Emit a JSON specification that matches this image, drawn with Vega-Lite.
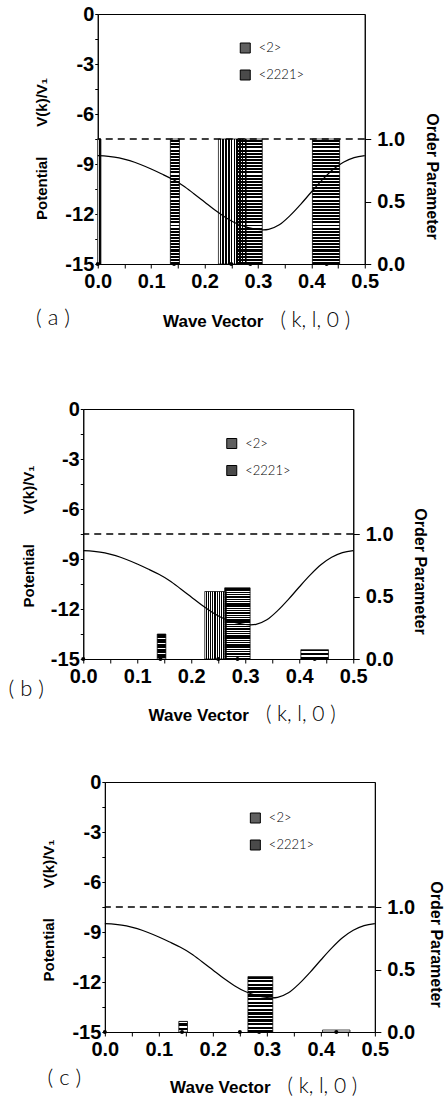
{
"$schema": "https://vega.github.io/schema/vega-lite/v6.json",
"padding": {"left": 0, "top": 3, "right": 0, "bottom": 0},
"background": "white",
"spacing": 0,
"center": true,
"datasets": {
"curve": [{"k":0,"v":-8.5},{"k":0.02,"v":-8.54},{"k":0.04,"v":-8.63},{"k":0.06,"v":-8.8},{"k":0.08,"v":-9.03},{"k":0.1,"v":-9.3},{"k":0.12,"v":-9.6},{"k":0.14,"v":-9.92},{"k":0.16,"v":-10.3},{"k":0.18,"v":-10.78},{"k":0.2,"v":-11.28},{"k":0.22,"v":-11.78},{"k":0.24,"v":-12.22},{"k":0.26,"v":-12.57},{"k":0.28,"v":-12.8},{"k":0.3,"v":-12.93},{"k":0.31,"v":-12.95},{"k":0.32,"v":-12.92},{"k":0.34,"v":-12.65},{"k":0.36,"v":-12.1},{"k":0.38,"v":-11.42},{"k":0.4,"v":-10.68},{"k":0.42,"v":-9.97},{"k":0.44,"v":-9.35},{"k":0.46,"v":-8.9},{"k":0.48,"v":-8.62},{"k":0.5,"v":-8.5}],
"bars": [
{"panel":"a","type":"<2>","x1":0.0,"x2":0.006,"op":1.0},
{"panel":"a","type":"<2221>","x1":0.136,"x2":0.153,"op":1.0},
{"panel":"a","type":"<2>","x1":0.226,"x2":0.278,"op":1.0},
{"panel":"a","type":"<2221>","x1":0.262,"x2":0.308,"op":1.0},
{"panel":"a","type":"<2221>","x1":0.402,"x2":0.453,"op":1.0},
{"panel":"b","type":"<2221>","x1":0.137,"x2":0.153,"op":0.2},
{"panel":"b","type":"<2>","x1":0.225,"x2":0.265,"op":0.54},
{"panel":"b","type":"<2221>","x1":0.262,"x2":0.309,"op":0.57},
{"panel":"b","type":"<2221>","x1":0.403,"x2":0.454,"op":0.075},
{"panel":"c","type":"<2221>","x1":0.137,"x2":0.153,"op":0.085},
{"panel":"c","type":"<2221>","x1":0.265,"x2":0.311,"op":0.444},
{"panel":"c","type":"<2221>","x1":0.403,"x2":0.454,"op":0.016}
],
"pts": [{"k":0},{"k":0.1429},{"k":0.25},{"k":0.2857},{"k":0.4286}]
},
"resolve": {"scale": {"fill": "independent"}, "legend": {"fill": "independent"}},
"vconcat": [
{
"width": 267, "height": 250,
"title": {"text": "( a )", "orient": "bottom", "anchor": "start", "frame": "group", "dx": -61.7, "dy": -72, "offset": 0, "baseline": "alphabetic", "font": "Lato", "fontWeight": 300, "fontSize": 22, "color": "black"},
"layer": [
{"data": {"name": "bars"}, "transform": [{"filter": "datum.panel === 'a'"}],
"mark": {"type": "rect"},
"encoding": {
"x": {"field": "x1", "type": "quantitative", "scale": {"domain": [0, 0.5], "nice": false}, "axis": {"orient": "bottom", "labels": false, "ticks": false, "domain": false, "title": "( k, l, 0 )", "titleFont": "Lato", "titleFontWeight": 300, "titleFontSize": 21, "titleX": 217, "titleY": 62, "titleBaseline": "alphabetic", "minExtent": 0}},
"x2": {"field": "x2"},
"y": {"field": "op", "type": "quantitative", "scale": {"domain": [0, 2], "nice": false}, "axis": {"orient": "right", "values": [0, 0.5, 1], "format": ".1f", "tickSize": 6, "labelPadding": 6, "title": "Order Parameter", "titleFontSize": 16, "titleAngle": 90, "titleX": 61.7, "titleY": 162, "titleBaseline": "alphabetic", "minExtent": 87, "maxExtent": 200}},
"y2": {"datum": 0},
"fill": {"field": "type", "type": "nominal", "scale": {"domain": ["<2>", "<2221>"], "range": ["#606060", "#4a4a4a"]},
"legend": {"orient": "none", "legendX": 141, "legendY": 27.5, "title": null, "symbolType": "square", "symbolSize": 100, "symbolStrokeColor": "black", "symbolStrokeWidth": 1, "symbolOpacity": 1, "labelFont": "Lato", "labelFontWeight": 300, "labelFontSize": 13, "labelColor": "black", "labelOffset": 7, "rowPadding": 12, "padding": 0}}
}},
{"data": {"name": "bars"}, "transform": [{"filter": "datum.panel === 'a'"}],
"mark": {"type": "rect", "fill": "white"},
"encoding": {"x": {"field": "x1", "type": "quantitative", "scale": {"domain": [0, 0.5], "nice": false}, "axis": null}, "x2": {"field": "x2"}, "y": {"field": "op", "type": "quantitative", "scale": {"domain": [0, 2], "nice": false}, "axis": null}, "y2": {"datum": 0}}},
{"data": {"name": "bars"}, "transform": [{"filter": "datum.panel === 'a' && datum.type === '<2>'"}],
"mark": {"type": "rect", "stroke": "black", "strokeWidth": 0.7, "fill": {"gradient":"linear","x1":0,"y1":0,"x2":1,"y2":0,"stops":[{"offset":0,"color":"#fff"},{"offset":0.045,"color":"#fff"},{"offset":0.045,"color":"#000"},{"offset":0.1,"color":"#000"},{"offset":0.1,"color":"#fff"},{"offset":0.145,"color":"#fff"},{"offset":0.145,"color":"#000"},{"offset":0.2,"color":"#000"},{"offset":0.2,"color":"#fff"},{"offset":0.245,"color":"#fff"},{"offset":0.245,"color":"#000"},{"offset":0.3,"color":"#000"},{"offset":0.3,"color":"#fff"},{"offset":0.345,"color":"#fff"},{"offset":0.345,"color":"#000"},{"offset":0.4,"color":"#000"},{"offset":0.4,"color":"#fff"},{"offset":0.445,"color":"#fff"},{"offset":0.445,"color":"#000"},{"offset":0.5,"color":"#000"},{"offset":0.5,"color":"#fff"},{"offset":0.545,"color":"#fff"},{"offset":0.545,"color":"#000"},{"offset":0.6,"color":"#000"},{"offset":0.6,"color":"#fff"},{"offset":0.645,"color":"#fff"},{"offset":0.645,"color":"#000"},{"offset":0.7,"color":"#000"},{"offset":0.7,"color":"#fff"},{"offset":0.745,"color":"#fff"},{"offset":0.745,"color":"#000"},{"offset":0.8,"color":"#000"},{"offset":0.8,"color":"#fff"},{"offset":0.845,"color":"#fff"},{"offset":0.845,"color":"#000"},{"offset":0.9,"color":"#000"},{"offset":0.9,"color":"#fff"},{"offset":0.945,"color":"#fff"},{"offset":0.945,"color":"#000"},{"offset":1,"color":"#000"}]}},
"encoding": {"x": {"field": "x1", "type": "quantitative", "scale": {"domain": [0, 0.5], "nice": false}, "axis": null}, "x2": {"field": "x2"}, "y": {"field": "op", "type": "quantitative", "scale": {"domain": [0, 2], "nice": false}, "axis": null}, "y2": {"datum": 0}}},
{"data": {"name": "bars"}, "transform": [{"filter": "datum.panel === 'a' && datum.type === '<2221>'"}],
"mark": {"type": "rect", "stroke": "black", "strokeWidth": 0.7, "fill": {"gradient":"linear","x1":0,"y1":0,"x2":0,"y2":1,"stops":[{"offset":0,"color":"rgba(255,255,255,0)"},{"offset":0.009,"color":"rgba(255,255,255,0)"},{"offset":0.009,"color":"#000"},{"offset":0.025,"color":"#000"},{"offset":0.025,"color":"rgba(255,255,255,0)"},{"offset":0.034,"color":"rgba(255,255,255,0)"},{"offset":0.034,"color":"#000"},{"offset":0.05,"color":"#000"},{"offset":0.05,"color":"rgba(255,255,255,0)"},{"offset":0.059,"color":"rgba(255,255,255,0)"},{"offset":0.059,"color":"#000"},{"offset":0.075,"color":"#000"},{"offset":0.075,"color":"rgba(255,255,255,0)"},{"offset":0.084,"color":"rgba(255,255,255,0)"},{"offset":0.084,"color":"#000"},{"offset":0.1,"color":"#000"},{"offset":0.1,"color":"rgba(255,255,255,0)"},{"offset":0.109,"color":"rgba(255,255,255,0)"},{"offset":0.109,"color":"#000"},{"offset":0.125,"color":"#000"},{"offset":0.125,"color":"rgba(255,255,255,0)"},{"offset":0.134,"color":"rgba(255,255,255,0)"},{"offset":0.134,"color":"#000"},{"offset":0.15,"color":"#000"},{"offset":0.15,"color":"rgba(255,255,255,0)"},{"offset":0.159,"color":"rgba(255,255,255,0)"},{"offset":0.159,"color":"#000"},{"offset":0.175,"color":"#000"},{"offset":0.175,"color":"rgba(255,255,255,0)"},{"offset":0.184,"color":"rgba(255,255,255,0)"},{"offset":0.184,"color":"#000"},{"offset":0.2,"color":"#000"},{"offset":0.2,"color":"rgba(255,255,255,0)"},{"offset":0.209,"color":"rgba(255,255,255,0)"},{"offset":0.209,"color":"#000"},{"offset":0.225,"color":"#000"},{"offset":0.225,"color":"rgba(255,255,255,0)"},{"offset":0.234,"color":"rgba(255,255,255,0)"},{"offset":0.234,"color":"#000"},{"offset":0.25,"color":"#000"},{"offset":0.25,"color":"rgba(255,255,255,0)"},{"offset":0.259,"color":"rgba(255,255,255,0)"},{"offset":0.259,"color":"#000"},{"offset":0.275,"color":"#000"},{"offset":0.275,"color":"rgba(255,255,255,0)"},{"offset":0.284,"color":"rgba(255,255,255,0)"},{"offset":0.284,"color":"#000"},{"offset":0.3,"color":"#000"},{"offset":0.3,"color":"rgba(255,255,255,0)"},{"offset":0.309,"color":"rgba(255,255,255,0)"},{"offset":0.309,"color":"#000"},{"offset":0.325,"color":"#000"},{"offset":0.325,"color":"rgba(255,255,255,0)"},{"offset":0.334,"color":"rgba(255,255,255,0)"},{"offset":0.334,"color":"#000"},{"offset":0.35,"color":"#000"},{"offset":0.35,"color":"rgba(255,255,255,0)"},{"offset":0.359,"color":"rgba(255,255,255,0)"},{"offset":0.359,"color":"#000"},{"offset":0.375,"color":"#000"},{"offset":0.375,"color":"rgba(255,255,255,0)"},{"offset":0.384,"color":"rgba(255,255,255,0)"},{"offset":0.384,"color":"#000"},{"offset":0.4,"color":"#000"},{"offset":0.4,"color":"rgba(255,255,255,0)"},{"offset":0.409,"color":"rgba(255,255,255,0)"},{"offset":0.409,"color":"#000"},{"offset":0.425,"color":"#000"},{"offset":0.425,"color":"rgba(255,255,255,0)"},{"offset":0.434,"color":"rgba(255,255,255,0)"},{"offset":0.434,"color":"#000"},{"offset":0.45,"color":"#000"},{"offset":0.45,"color":"rgba(255,255,255,0)"},{"offset":0.459,"color":"rgba(255,255,255,0)"},{"offset":0.459,"color":"#000"},{"offset":0.475,"color":"#000"},{"offset":0.475,"color":"rgba(255,255,255,0)"},{"offset":0.484,"color":"rgba(255,255,255,0)"},{"offset":0.484,"color":"#000"},{"offset":0.5,"color":"#000"},{"offset":0.5,"color":"rgba(255,255,255,0)"},{"offset":0.509,"color":"rgba(255,255,255,0)"},{"offset":0.509,"color":"#000"},{"offset":0.525,"color":"#000"},{"offset":0.525,"color":"rgba(255,255,255,0)"},{"offset":0.534,"color":"rgba(255,255,255,0)"},{"offset":0.534,"color":"#000"},{"offset":0.55,"color":"#000"},{"offset":0.55,"color":"rgba(255,255,255,0)"},{"offset":0.559,"color":"rgba(255,255,255,0)"},{"offset":0.559,"color":"#000"},{"offset":0.575,"color":"#000"},{"offset":0.575,"color":"rgba(255,255,255,0)"},{"offset":0.584,"color":"rgba(255,255,255,0)"},{"offset":0.584,"color":"#000"},{"offset":0.6,"color":"#000"},{"offset":0.6,"color":"rgba(255,255,255,0)"},{"offset":0.609,"color":"rgba(255,255,255,0)"},{"offset":0.609,"color":"#000"},{"offset":0.625,"color":"#000"},{"offset":0.625,"color":"rgba(255,255,255,0)"},{"offset":0.634,"color":"rgba(255,255,255,0)"},{"offset":0.634,"color":"#000"},{"offset":0.65,"color":"#000"},{"offset":0.65,"color":"rgba(255,255,255,0)"},{"offset":0.659,"color":"rgba(255,255,255,0)"},{"offset":0.659,"color":"#000"},{"offset":0.675,"color":"#000"},{"offset":0.675,"color":"rgba(255,255,255,0)"},{"offset":0.684,"color":"rgba(255,255,255,0)"},{"offset":0.684,"color":"#000"},{"offset":0.7,"color":"#000"},{"offset":0.7,"color":"rgba(255,255,255,0)"},{"offset":0.709,"color":"rgba(255,255,255,0)"},{"offset":0.709,"color":"#000"},{"offset":0.725,"color":"#000"},{"offset":0.725,"color":"rgba(255,255,255,0)"},{"offset":0.734,"color":"rgba(255,255,255,0)"},{"offset":0.734,"color":"#000"},{"offset":0.75,"color":"#000"},{"offset":0.75,"color":"rgba(255,255,255,0)"},{"offset":0.759,"color":"rgba(255,255,255,0)"},{"offset":0.759,"color":"#000"},{"offset":0.775,"color":"#000"},{"offset":0.775,"color":"rgba(255,255,255,0)"},{"offset":0.784,"color":"rgba(255,255,255,0)"},{"offset":0.784,"color":"#000"},{"offset":0.8,"color":"#000"},{"offset":0.8,"color":"rgba(255,255,255,0)"},{"offset":0.809,"color":"rgba(255,255,255,0)"},{"offset":0.809,"color":"#000"},{"offset":0.825,"color":"#000"},{"offset":0.825,"color":"rgba(255,255,255,0)"},{"offset":0.834,"color":"rgba(255,255,255,0)"},{"offset":0.834,"color":"#000"},{"offset":0.85,"color":"#000"},{"offset":0.85,"color":"rgba(255,255,255,0)"},{"offset":0.859,"color":"rgba(255,255,255,0)"},{"offset":0.859,"color":"#000"},{"offset":0.875,"color":"#000"},{"offset":0.875,"color":"rgba(255,255,255,0)"},{"offset":0.884,"color":"rgba(255,255,255,0)"},{"offset":0.884,"color":"#000"},{"offset":0.9,"color":"#000"},{"offset":0.9,"color":"rgba(255,255,255,0)"},{"offset":0.909,"color":"rgba(255,255,255,0)"},{"offset":0.909,"color":"#000"},{"offset":0.925,"color":"#000"},{"offset":0.925,"color":"rgba(255,255,255,0)"},{"offset":0.934,"color":"rgba(255,255,255,0)"},{"offset":0.934,"color":"#000"},{"offset":0.95,"color":"#000"},{"offset":0.95,"color":"rgba(255,255,255,0)"},{"offset":0.959,"color":"rgba(255,255,255,0)"},{"offset":0.959,"color":"#000"},{"offset":0.975,"color":"#000"},{"offset":0.975,"color":"rgba(255,255,255,0)"},{"offset":0.984,"color":"rgba(255,255,255,0)"},{"offset":0.984,"color":"#000"},{"offset":1,"color":"#000"}]}},
"encoding": {"x": {"field": "x1", "type": "quantitative", "scale": {"domain": [0, 0.5], "nice": false}, "axis": null}, "x2": {"field": "x2"}, "y": {"field": "op", "type": "quantitative", "scale": {"domain": [0, 2], "nice": false}, "axis": null}, "y2": {"datum": 0}}},
{"data": {"values": [{"ref": 1}]}, "mark": {"type": "rule", "strokeDash": [7, 5], "color": "black", "strokeWidth": 1.3},
"encoding": {"y": {"field": "ref", "type": "quantitative", "scale": {"domain": [0, 2], "nice": false}, "axis": null}}},
{"data": {"name": "pts"}, "mark": {"type": "circle", "size": 16, "color": "black", "opacity": 1},
"encoding": {"x": {"field": "k", "type": "quantitative", "scale": {"domain": [0, 0.5], "nice": false}, "axis": null}, "y": {"datum": 0, "type": "quantitative", "scale": {"domain": [0, 2], "nice": false}, "axis": null}}},
{"data": {"name": "curve"}, "mark": {"type": "line", "color": "black", "strokeWidth": 1.2, "interpolate": "monotone"},
"encoding": {
"x": {"field": "k", "type": "quantitative", "scale": {"domain": [0, 0.5], "nice": false}, "axis": {"orient": "bottom", "values": [0,0.05,0.1,0.15,0.2,0.25,0.3,0.35,0.4,0.45,0.5], "labelExpr": "round(datum.value*100) % 10 === 0 ? format(datum.value, '.1f') : ''", "tickSize": 4, "labelPadding": 3, "title": "Wave Vector", "titleFontSize": 17, "titleX": 115, "titleY": 62, "titleBaseline": "alphabetic", "titleAlign": "center", "minExtent": 133, "maxExtent": 200}},
"y": {"field": "v", "type": "quantitative", "scale": {"domain": [-15, 0], "nice": false}, "axis": {"orient": "left", "values": [0,-1.5,-3,-4.5,-6,-7.5,-9,-10.5,-12,-13.5,-15], "labelExpr": "datum.value % 3 === 0 ? '' + datum.value : ''", "tickSize": 3, "labelPadding": 1, "title": "Potential\u2003\u2003V(k)/V\u2081", "titleFontSize": 15, "titleX": -51.7, "titleY": 134.5, "titleBaseline": "alphabetic", "titleAngle": 270, "minExtent": 96.7, "maxExtent": 200}}
}}
],
"resolve": {"scale": {"y": "independent"}, "axis": {"x": "independent"}}
},
{
"width": 270, "height": 250,
"title": {"text": "( b )", "orient": "bottom", "anchor": "start", "frame": "group", "dx": -74.7, "dy": -74, "offset": 0, "baseline": "alphabetic", "font": "Lato", "fontWeight": 300, "fontSize": 22, "color": "black"},
"layer": [
{"data": {"name": "bars"}, "transform": [{"filter": "datum.panel === 'b'"}],
"mark": {"type": "rect"},
"encoding": {
"x": {"field": "x1", "type": "quantitative", "scale": {"domain": [0, 0.5], "nice": false}, "axis": {"orient": "bottom", "labels": false, "ticks": false, "domain": false, "title": "( k, l, 0 )", "titleFont": "Lato", "titleFontWeight": 300, "titleFontSize": 21, "titleX": 217, "titleY": 61, "titleBaseline": "alphabetic", "minExtent": 0}},
"x2": {"field": "x2"},
"y": {"field": "op", "type": "quantitative", "scale": {"domain": [0, 2], "nice": false}, "axis": {"orient": "right", "values": [0, 0.5, 1], "format": ".1f", "tickSize": 6, "labelPadding": 6, "title": "Order Parameter", "titleFontSize": 16, "titleAngle": 90, "titleX": 61, "titleY": 162, "titleBaseline": "alphabetic", "minExtent": 113, "maxExtent": 200}},
"y2": {"datum": 0},
"fill": {"field": "type", "type": "nominal", "scale": {"domain": ["<2>", "<2221>"], "range": ["#606060", "#4a4a4a"]},
"legend": {"orient": "none", "legendX": 142, "legendY": 28, "title": null, "symbolType": "square", "symbolSize": 100, "symbolStrokeColor": "black", "symbolStrokeWidth": 1, "symbolOpacity": 1, "labelFont": "Lato", "labelFontWeight": 300, "labelFontSize": 13, "labelColor": "black", "labelOffset": 7, "rowPadding": 12, "padding": 0}}
}},
{"data": {"name": "bars"}, "transform": [{"filter": "datum.panel === 'b'"}],
"mark": {"type": "rect", "fill": "white"},
"encoding": {"x": {"field": "x1", "type": "quantitative", "scale": {"domain": [0, 0.5], "nice": false}, "axis": null}, "x2": {"field": "x2"}, "y": {"field": "op", "type": "quantitative", "scale": {"domain": [0, 2], "nice": false}, "axis": null}, "y2": {"datum": 0}}},
{"data": {"name": "bars"}, "transform": [{"filter": "datum.panel === 'b' && datum.type === '<2>'"}],
"mark": {"type": "rect", "stroke": "black", "strokeWidth": 0.7, "fill": {"gradient":"linear","x1":0,"y1":0,"x2":1,"y2":0,"stops":[{"offset":0,"color":"#fff"},{"offset":0.045,"color":"#fff"},{"offset":0.045,"color":"#000"},{"offset":0.1,"color":"#000"},{"offset":0.1,"color":"#fff"},{"offset":0.145,"color":"#fff"},{"offset":0.145,"color":"#000"},{"offset":0.2,"color":"#000"},{"offset":0.2,"color":"#fff"},{"offset":0.245,"color":"#fff"},{"offset":0.245,"color":"#000"},{"offset":0.3,"color":"#000"},{"offset":0.3,"color":"#fff"},{"offset":0.345,"color":"#fff"},{"offset":0.345,"color":"#000"},{"offset":0.4,"color":"#000"},{"offset":0.4,"color":"#fff"},{"offset":0.445,"color":"#fff"},{"offset":0.445,"color":"#000"},{"offset":0.5,"color":"#000"},{"offset":0.5,"color":"#fff"},{"offset":0.545,"color":"#fff"},{"offset":0.545,"color":"#000"},{"offset":0.6,"color":"#000"},{"offset":0.6,"color":"#fff"},{"offset":0.645,"color":"#fff"},{"offset":0.645,"color":"#000"},{"offset":0.7,"color":"#000"},{"offset":0.7,"color":"#fff"},{"offset":0.745,"color":"#fff"},{"offset":0.745,"color":"#000"},{"offset":0.8,"color":"#000"},{"offset":0.8,"color":"#fff"},{"offset":0.845,"color":"#fff"},{"offset":0.845,"color":"#000"},{"offset":0.9,"color":"#000"},{"offset":0.9,"color":"#fff"},{"offset":0.945,"color":"#fff"},{"offset":0.945,"color":"#000"},{"offset":1,"color":"#000"}]}},
"encoding": {"x": {"field": "x1", "type": "quantitative", "scale": {"domain": [0, 0.5], "nice": false}, "axis": null}, "x2": {"field": "x2"}, "y": {"field": "op", "type": "quantitative", "scale": {"domain": [0, 2], "nice": false}, "axis": null}, "y2": {"datum": 0}}},
{"data": {"name": "bars"}, "transform": [{"filter": "datum.panel === 'b' && datum.type === '<2221>'"}],
"mark": {"type": "rect", "stroke": "black", "strokeWidth": 0.7, "fill": {"gradient":"linear","x1":0,"y1":0,"x2":0,"y2":1,"stops":[{"offset":0,"color":"rgba(255,255,255,0)"},{"offset":0.009,"color":"rgba(255,255,255,0)"},{"offset":0.009,"color":"#000"},{"offset":0.025,"color":"#000"},{"offset":0.025,"color":"rgba(255,255,255,0)"},{"offset":0.034,"color":"rgba(255,255,255,0)"},{"offset":0.034,"color":"#000"},{"offset":0.05,"color":"#000"},{"offset":0.05,"color":"rgba(255,255,255,0)"},{"offset":0.059,"color":"rgba(255,255,255,0)"},{"offset":0.059,"color":"#000"},{"offset":0.075,"color":"#000"},{"offset":0.075,"color":"rgba(255,255,255,0)"},{"offset":0.084,"color":"rgba(255,255,255,0)"},{"offset":0.084,"color":"#000"},{"offset":0.1,"color":"#000"},{"offset":0.1,"color":"rgba(255,255,255,0)"},{"offset":0.109,"color":"rgba(255,255,255,0)"},{"offset":0.109,"color":"#000"},{"offset":0.125,"color":"#000"},{"offset":0.125,"color":"rgba(255,255,255,0)"},{"offset":0.134,"color":"rgba(255,255,255,0)"},{"offset":0.134,"color":"#000"},{"offset":0.15,"color":"#000"},{"offset":0.15,"color":"rgba(255,255,255,0)"},{"offset":0.159,"color":"rgba(255,255,255,0)"},{"offset":0.159,"color":"#000"},{"offset":0.175,"color":"#000"},{"offset":0.175,"color":"rgba(255,255,255,0)"},{"offset":0.184,"color":"rgba(255,255,255,0)"},{"offset":0.184,"color":"#000"},{"offset":0.2,"color":"#000"},{"offset":0.2,"color":"rgba(255,255,255,0)"},{"offset":0.209,"color":"rgba(255,255,255,0)"},{"offset":0.209,"color":"#000"},{"offset":0.225,"color":"#000"},{"offset":0.225,"color":"rgba(255,255,255,0)"},{"offset":0.234,"color":"rgba(255,255,255,0)"},{"offset":0.234,"color":"#000"},{"offset":0.25,"color":"#000"},{"offset":0.25,"color":"rgba(255,255,255,0)"},{"offset":0.259,"color":"rgba(255,255,255,0)"},{"offset":0.259,"color":"#000"},{"offset":0.275,"color":"#000"},{"offset":0.275,"color":"rgba(255,255,255,0)"},{"offset":0.284,"color":"rgba(255,255,255,0)"},{"offset":0.284,"color":"#000"},{"offset":0.3,"color":"#000"},{"offset":0.3,"color":"rgba(255,255,255,0)"},{"offset":0.309,"color":"rgba(255,255,255,0)"},{"offset":0.309,"color":"#000"},{"offset":0.325,"color":"#000"},{"offset":0.325,"color":"rgba(255,255,255,0)"},{"offset":0.334,"color":"rgba(255,255,255,0)"},{"offset":0.334,"color":"#000"},{"offset":0.35,"color":"#000"},{"offset":0.35,"color":"rgba(255,255,255,0)"},{"offset":0.359,"color":"rgba(255,255,255,0)"},{"offset":0.359,"color":"#000"},{"offset":0.375,"color":"#000"},{"offset":0.375,"color":"rgba(255,255,255,0)"},{"offset":0.384,"color":"rgba(255,255,255,0)"},{"offset":0.384,"color":"#000"},{"offset":0.4,"color":"#000"},{"offset":0.4,"color":"rgba(255,255,255,0)"},{"offset":0.409,"color":"rgba(255,255,255,0)"},{"offset":0.409,"color":"#000"},{"offset":0.425,"color":"#000"},{"offset":0.425,"color":"rgba(255,255,255,0)"},{"offset":0.434,"color":"rgba(255,255,255,0)"},{"offset":0.434,"color":"#000"},{"offset":0.45,"color":"#000"},{"offset":0.45,"color":"rgba(255,255,255,0)"},{"offset":0.459,"color":"rgba(255,255,255,0)"},{"offset":0.459,"color":"#000"},{"offset":0.475,"color":"#000"},{"offset":0.475,"color":"rgba(255,255,255,0)"},{"offset":0.484,"color":"rgba(255,255,255,0)"},{"offset":0.484,"color":"#000"},{"offset":0.5,"color":"#000"},{"offset":0.5,"color":"rgba(255,255,255,0)"},{"offset":0.509,"color":"rgba(255,255,255,0)"},{"offset":0.509,"color":"#000"},{"offset":0.525,"color":"#000"},{"offset":0.525,"color":"rgba(255,255,255,0)"},{"offset":0.534,"color":"rgba(255,255,255,0)"},{"offset":0.534,"color":"#000"},{"offset":0.55,"color":"#000"},{"offset":0.55,"color":"rgba(255,255,255,0)"},{"offset":0.559,"color":"rgba(255,255,255,0)"},{"offset":0.559,"color":"#000"},{"offset":0.575,"color":"#000"},{"offset":0.575,"color":"rgba(255,255,255,0)"},{"offset":0.584,"color":"rgba(255,255,255,0)"},{"offset":0.584,"color":"#000"},{"offset":0.6,"color":"#000"},{"offset":0.6,"color":"rgba(255,255,255,0)"},{"offset":0.609,"color":"rgba(255,255,255,0)"},{"offset":0.609,"color":"#000"},{"offset":0.625,"color":"#000"},{"offset":0.625,"color":"rgba(255,255,255,0)"},{"offset":0.634,"color":"rgba(255,255,255,0)"},{"offset":0.634,"color":"#000"},{"offset":0.65,"color":"#000"},{"offset":0.65,"color":"rgba(255,255,255,0)"},{"offset":0.659,"color":"rgba(255,255,255,0)"},{"offset":0.659,"color":"#000"},{"offset":0.675,"color":"#000"},{"offset":0.675,"color":"rgba(255,255,255,0)"},{"offset":0.684,"color":"rgba(255,255,255,0)"},{"offset":0.684,"color":"#000"},{"offset":0.7,"color":"#000"},{"offset":0.7,"color":"rgba(255,255,255,0)"},{"offset":0.709,"color":"rgba(255,255,255,0)"},{"offset":0.709,"color":"#000"},{"offset":0.725,"color":"#000"},{"offset":0.725,"color":"rgba(255,255,255,0)"},{"offset":0.734,"color":"rgba(255,255,255,0)"},{"offset":0.734,"color":"#000"},{"offset":0.75,"color":"#000"},{"offset":0.75,"color":"rgba(255,255,255,0)"},{"offset":0.759,"color":"rgba(255,255,255,0)"},{"offset":0.759,"color":"#000"},{"offset":0.775,"color":"#000"},{"offset":0.775,"color":"rgba(255,255,255,0)"},{"offset":0.784,"color":"rgba(255,255,255,0)"},{"offset":0.784,"color":"#000"},{"offset":0.8,"color":"#000"},{"offset":0.8,"color":"rgba(255,255,255,0)"},{"offset":0.809,"color":"rgba(255,255,255,0)"},{"offset":0.809,"color":"#000"},{"offset":0.825,"color":"#000"},{"offset":0.825,"color":"rgba(255,255,255,0)"},{"offset":0.834,"color":"rgba(255,255,255,0)"},{"offset":0.834,"color":"#000"},{"offset":0.85,"color":"#000"},{"offset":0.85,"color":"rgba(255,255,255,0)"},{"offset":0.859,"color":"rgba(255,255,255,0)"},{"offset":0.859,"color":"#000"},{"offset":0.875,"color":"#000"},{"offset":0.875,"color":"rgba(255,255,255,0)"},{"offset":0.884,"color":"rgba(255,255,255,0)"},{"offset":0.884,"color":"#000"},{"offset":0.9,"color":"#000"},{"offset":0.9,"color":"rgba(255,255,255,0)"},{"offset":0.909,"color":"rgba(255,255,255,0)"},{"offset":0.909,"color":"#000"},{"offset":0.925,"color":"#000"},{"offset":0.925,"color":"rgba(255,255,255,0)"},{"offset":0.934,"color":"rgba(255,255,255,0)"},{"offset":0.934,"color":"#000"},{"offset":0.95,"color":"#000"},{"offset":0.95,"color":"rgba(255,255,255,0)"},{"offset":0.959,"color":"rgba(255,255,255,0)"},{"offset":0.959,"color":"#000"},{"offset":0.975,"color":"#000"},{"offset":0.975,"color":"rgba(255,255,255,0)"},{"offset":0.984,"color":"rgba(255,255,255,0)"},{"offset":0.984,"color":"#000"},{"offset":1,"color":"#000"}]}},
"encoding": {"x": {"field": "x1", "type": "quantitative", "scale": {"domain": [0, 0.5], "nice": false}, "axis": null}, "x2": {"field": "x2"}, "y": {"field": "op", "type": "quantitative", "scale": {"domain": [0, 2], "nice": false}, "axis": null}, "y2": {"datum": 0}}},
{"data": {"values": [{"ref": 1}]}, "mark": {"type": "rule", "strokeDash": [7, 5], "color": "black", "strokeWidth": 1.3},
"encoding": {"y": {"field": "ref", "type": "quantitative", "scale": {"domain": [0, 2], "nice": false}, "axis": null}}},
{"data": {"name": "pts"}, "mark": {"type": "circle", "size": 16, "color": "black", "opacity": 1},
"encoding": {"x": {"field": "k", "type": "quantitative", "scale": {"domain": [0, 0.5], "nice": false}, "axis": null}, "y": {"datum": 0, "type": "quantitative", "scale": {"domain": [0, 2], "nice": false}, "axis": null}}},
{"data": {"name": "curve"}, "mark": {"type": "line", "color": "black", "strokeWidth": 1.2, "interpolate": "monotone"},
"encoding": {
"x": {"field": "k", "type": "quantitative", "scale": {"domain": [0, 0.5], "nice": false}, "axis": {"orient": "bottom", "values": [0,0.05,0.1,0.15,0.2,0.25,0.3,0.35,0.4,0.45,0.5], "labelExpr": "round(datum.value*100) % 10 === 0 ? format(datum.value, '.1f') : ''", "tickSize": 4, "labelPadding": 3, "title": "Wave Vector", "titleFontSize": 17, "titleX": 115, "titleY": 61, "titleBaseline": "alphabetic", "titleAlign": "center", "minExtent": 111, "maxExtent": 200}},
"y": {"field": "v", "type": "quantitative", "scale": {"domain": [-15, 0], "nice": false}, "axis": {"orient": "left", "values": [0,-1.5,-3,-4.5,-6,-7.5,-9,-10.5,-12,-13.5,-15], "labelExpr": "datum.value % 3 === 0 ? '' + datum.value : ''", "tickSize": 3, "labelPadding": 1, "title": "Potential\u2003\u2003V(k)/V\u2081", "titleFontSize": 15, "titleX": -49.7, "titleY": 127, "titleBaseline": "alphabetic", "titleAngle": 270, "minExtent": 82.7, "maxExtent": 200}}
}}
],
"resolve": {"scale": {"y": "independent"}, "axis": {"x": "independent"}}
},
{
"width": 270, "height": 250,
"title": {"text": "( c )", "orient": "bottom", "anchor": "start", "frame": "group", "dx": -57.3, "dy": -11, "offset": 0, "baseline": "alphabetic", "font": "Lato", "fontWeight": 300, "fontSize": 22, "color": "black"},
"layer": [
{"data": {"name": "bars"}, "transform": [{"filter": "datum.panel === 'c'"}],
"mark": {"type": "rect"},
"encoding": {
"x": {"field": "x1", "type": "quantitative", "scale": {"domain": [0, 0.5], "nice": false}, "axis": {"orient": "bottom", "labels": false, "ticks": false, "domain": false, "title": "( k, l, 0 )", "titleFont": "Lato", "titleFontWeight": 300, "titleFontSize": 21, "titleX": 217, "titleY": 60, "titleBaseline": "alphabetic", "minExtent": 0}},
"x2": {"field": "x2"},
"y": {"field": "op", "type": "quantitative", "scale": {"domain": [0, 2], "nice": false}, "axis": {"orient": "right", "values": [0, 0.5, 1], "format": ".1f", "tickSize": 6, "labelPadding": 6, "title": "Order Parameter", "titleFontSize": 16, "titleAngle": 90, "titleX": 56, "titleY": 162, "titleBaseline": "alphabetic", "minExtent": 69.8, "maxExtent": 200}},
"y2": {"datum": 0},
"fill": {"field": "type", "type": "nominal", "scale": {"domain": ["<2>", "<2221>"], "range": ["#606060", "#4a4a4a"]},
"legend": {"orient": "none", "legendX": 144, "legendY": 29.5, "title": null, "symbolType": "square", "symbolSize": 100, "symbolStrokeColor": "black", "symbolStrokeWidth": 1, "symbolOpacity": 1, "labelFont": "Lato", "labelFontWeight": 300, "labelFontSize": 13, "labelColor": "black", "labelOffset": 7, "rowPadding": 12, "padding": 0}}
}},
{"data": {"name": "bars"}, "transform": [{"filter": "datum.panel === 'c'"}],
"mark": {"type": "rect", "fill": "white"},
"encoding": {"x": {"field": "x1", "type": "quantitative", "scale": {"domain": [0, 0.5], "nice": false}, "axis": null}, "x2": {"field": "x2"}, "y": {"field": "op", "type": "quantitative", "scale": {"domain": [0, 2], "nice": false}, "axis": null}, "y2": {"datum": 0}}},
{"data": {"name": "bars"}, "transform": [{"filter": "datum.panel === 'c' && datum.type === '<2221>'"}],
"mark": {"type": "rect", "stroke": "black", "strokeWidth": 0.7, "fill": {"gradient":"linear","x1":0,"y1":0,"x2":0,"y2":1,"stops":[{"offset":0,"color":"rgba(255,255,255,0)"},{"offset":0.009,"color":"rgba(255,255,255,0)"},{"offset":0.009,"color":"#000"},{"offset":0.025,"color":"#000"},{"offset":0.025,"color":"rgba(255,255,255,0)"},{"offset":0.034,"color":"rgba(255,255,255,0)"},{"offset":0.034,"color":"#000"},{"offset":0.05,"color":"#000"},{"offset":0.05,"color":"rgba(255,255,255,0)"},{"offset":0.059,"color":"rgba(255,255,255,0)"},{"offset":0.059,"color":"#000"},{"offset":0.075,"color":"#000"},{"offset":0.075,"color":"rgba(255,255,255,0)"},{"offset":0.084,"color":"rgba(255,255,255,0)"},{"offset":0.084,"color":"#000"},{"offset":0.1,"color":"#000"},{"offset":0.1,"color":"rgba(255,255,255,0)"},{"offset":0.109,"color":"rgba(255,255,255,0)"},{"offset":0.109,"color":"#000"},{"offset":0.125,"color":"#000"},{"offset":0.125,"color":"rgba(255,255,255,0)"},{"offset":0.134,"color":"rgba(255,255,255,0)"},{"offset":0.134,"color":"#000"},{"offset":0.15,"color":"#000"},{"offset":0.15,"color":"rgba(255,255,255,0)"},{"offset":0.159,"color":"rgba(255,255,255,0)"},{"offset":0.159,"color":"#000"},{"offset":0.175,"color":"#000"},{"offset":0.175,"color":"rgba(255,255,255,0)"},{"offset":0.184,"color":"rgba(255,255,255,0)"},{"offset":0.184,"color":"#000"},{"offset":0.2,"color":"#000"},{"offset":0.2,"color":"rgba(255,255,255,0)"},{"offset":0.209,"color":"rgba(255,255,255,0)"},{"offset":0.209,"color":"#000"},{"offset":0.225,"color":"#000"},{"offset":0.225,"color":"rgba(255,255,255,0)"},{"offset":0.234,"color":"rgba(255,255,255,0)"},{"offset":0.234,"color":"#000"},{"offset":0.25,"color":"#000"},{"offset":0.25,"color":"rgba(255,255,255,0)"},{"offset":0.259,"color":"rgba(255,255,255,0)"},{"offset":0.259,"color":"#000"},{"offset":0.275,"color":"#000"},{"offset":0.275,"color":"rgba(255,255,255,0)"},{"offset":0.284,"color":"rgba(255,255,255,0)"},{"offset":0.284,"color":"#000"},{"offset":0.3,"color":"#000"},{"offset":0.3,"color":"rgba(255,255,255,0)"},{"offset":0.309,"color":"rgba(255,255,255,0)"},{"offset":0.309,"color":"#000"},{"offset":0.325,"color":"#000"},{"offset":0.325,"color":"rgba(255,255,255,0)"},{"offset":0.334,"color":"rgba(255,255,255,0)"},{"offset":0.334,"color":"#000"},{"offset":0.35,"color":"#000"},{"offset":0.35,"color":"rgba(255,255,255,0)"},{"offset":0.359,"color":"rgba(255,255,255,0)"},{"offset":0.359,"color":"#000"},{"offset":0.375,"color":"#000"},{"offset":0.375,"color":"rgba(255,255,255,0)"},{"offset":0.384,"color":"rgba(255,255,255,0)"},{"offset":0.384,"color":"#000"},{"offset":0.4,"color":"#000"},{"offset":0.4,"color":"rgba(255,255,255,0)"},{"offset":0.409,"color":"rgba(255,255,255,0)"},{"offset":0.409,"color":"#000"},{"offset":0.425,"color":"#000"},{"offset":0.425,"color":"rgba(255,255,255,0)"},{"offset":0.434,"color":"rgba(255,255,255,0)"},{"offset":0.434,"color":"#000"},{"offset":0.45,"color":"#000"},{"offset":0.45,"color":"rgba(255,255,255,0)"},{"offset":0.459,"color":"rgba(255,255,255,0)"},{"offset":0.459,"color":"#000"},{"offset":0.475,"color":"#000"},{"offset":0.475,"color":"rgba(255,255,255,0)"},{"offset":0.484,"color":"rgba(255,255,255,0)"},{"offset":0.484,"color":"#000"},{"offset":0.5,"color":"#000"},{"offset":0.5,"color":"rgba(255,255,255,0)"},{"offset":0.509,"color":"rgba(255,255,255,0)"},{"offset":0.509,"color":"#000"},{"offset":0.525,"color":"#000"},{"offset":0.525,"color":"rgba(255,255,255,0)"},{"offset":0.534,"color":"rgba(255,255,255,0)"},{"offset":0.534,"color":"#000"},{"offset":0.55,"color":"#000"},{"offset":0.55,"color":"rgba(255,255,255,0)"},{"offset":0.559,"color":"rgba(255,255,255,0)"},{"offset":0.559,"color":"#000"},{"offset":0.575,"color":"#000"},{"offset":0.575,"color":"rgba(255,255,255,0)"},{"offset":0.584,"color":"rgba(255,255,255,0)"},{"offset":0.584,"color":"#000"},{"offset":0.6,"color":"#000"},{"offset":0.6,"color":"rgba(255,255,255,0)"},{"offset":0.609,"color":"rgba(255,255,255,0)"},{"offset":0.609,"color":"#000"},{"offset":0.625,"color":"#000"},{"offset":0.625,"color":"rgba(255,255,255,0)"},{"offset":0.634,"color":"rgba(255,255,255,0)"},{"offset":0.634,"color":"#000"},{"offset":0.65,"color":"#000"},{"offset":0.65,"color":"rgba(255,255,255,0)"},{"offset":0.659,"color":"rgba(255,255,255,0)"},{"offset":0.659,"color":"#000"},{"offset":0.675,"color":"#000"},{"offset":0.675,"color":"rgba(255,255,255,0)"},{"offset":0.684,"color":"rgba(255,255,255,0)"},{"offset":0.684,"color":"#000"},{"offset":0.7,"color":"#000"},{"offset":0.7,"color":"rgba(255,255,255,0)"},{"offset":0.709,"color":"rgba(255,255,255,0)"},{"offset":0.709,"color":"#000"},{"offset":0.725,"color":"#000"},{"offset":0.725,"color":"rgba(255,255,255,0)"},{"offset":0.734,"color":"rgba(255,255,255,0)"},{"offset":0.734,"color":"#000"},{"offset":0.75,"color":"#000"},{"offset":0.75,"color":"rgba(255,255,255,0)"},{"offset":0.759,"color":"rgba(255,255,255,0)"},{"offset":0.759,"color":"#000"},{"offset":0.775,"color":"#000"},{"offset":0.775,"color":"rgba(255,255,255,0)"},{"offset":0.784,"color":"rgba(255,255,255,0)"},{"offset":0.784,"color":"#000"},{"offset":0.8,"color":"#000"},{"offset":0.8,"color":"rgba(255,255,255,0)"},{"offset":0.809,"color":"rgba(255,255,255,0)"},{"offset":0.809,"color":"#000"},{"offset":0.825,"color":"#000"},{"offset":0.825,"color":"rgba(255,255,255,0)"},{"offset":0.834,"color":"rgba(255,255,255,0)"},{"offset":0.834,"color":"#000"},{"offset":0.85,"color":"#000"},{"offset":0.85,"color":"rgba(255,255,255,0)"},{"offset":0.859,"color":"rgba(255,255,255,0)"},{"offset":0.859,"color":"#000"},{"offset":0.875,"color":"#000"},{"offset":0.875,"color":"rgba(255,255,255,0)"},{"offset":0.884,"color":"rgba(255,255,255,0)"},{"offset":0.884,"color":"#000"},{"offset":0.9,"color":"#000"},{"offset":0.9,"color":"rgba(255,255,255,0)"},{"offset":0.909,"color":"rgba(255,255,255,0)"},{"offset":0.909,"color":"#000"},{"offset":0.925,"color":"#000"},{"offset":0.925,"color":"rgba(255,255,255,0)"},{"offset":0.934,"color":"rgba(255,255,255,0)"},{"offset":0.934,"color":"#000"},{"offset":0.95,"color":"#000"},{"offset":0.95,"color":"rgba(255,255,255,0)"},{"offset":0.959,"color":"rgba(255,255,255,0)"},{"offset":0.959,"color":"#000"},{"offset":0.975,"color":"#000"},{"offset":0.975,"color":"rgba(255,255,255,0)"},{"offset":0.984,"color":"rgba(255,255,255,0)"},{"offset":0.984,"color":"#000"},{"offset":1,"color":"#000"}]}},
"encoding": {"x": {"field": "x1", "type": "quantitative", "scale": {"domain": [0, 0.5], "nice": false}, "axis": null}, "x2": {"field": "x2"}, "y": {"field": "op", "type": "quantitative", "scale": {"domain": [0, 2], "nice": false}, "axis": null}, "y2": {"datum": 0}}},
{"data": {"values": [{"ref": 1}]}, "mark": {"type": "rule", "strokeDash": [7, 5], "color": "black", "strokeWidth": 1.3},
"encoding": {"y": {"field": "ref", "type": "quantitative", "scale": {"domain": [0, 2], "nice": false}, "axis": null}}},
{"data": {"name": "pts"}, "mark": {"type": "circle", "size": 16, "color": "black", "opacity": 1},
"encoding": {"x": {"field": "k", "type": "quantitative", "scale": {"domain": [0, 0.5], "nice": false}, "axis": null}, "y": {"datum": 0, "type": "quantitative", "scale": {"domain": [0, 2], "nice": false}, "axis": null}}},
{"data": {"name": "curve"}, "mark": {"type": "line", "color": "black", "strokeWidth": 1.2, "interpolate": "monotone"},
"encoding": {
"x": {"field": "k", "type": "quantitative", "scale": {"domain": [0, 0.5], "nice": false}, "axis": {"orient": "bottom", "values": [0,0.05,0.1,0.15,0.2,0.25,0.3,0.35,0.4,0.45,0.5], "labelExpr": "round(datum.value*100) % 10 === 0 ? format(datum.value, '.1f') : ''", "tickSize": 4, "labelPadding": 3, "title": "Wave Vector", "titleFontSize": 17, "titleX": 115, "titleY": 60, "titleBaseline": "alphabetic", "titleAlign": "center", "minExtent": 64, "maxExtent": 200}},
"y": {"field": "v", "type": "quantitative", "scale": {"domain": [-15, 0], "nice": false}, "axis": {"orient": "left", "values": [0,-1.5,-3,-4.5,-6,-7.5,-9,-10.5,-12,-13.5,-15], "labelExpr": "datum.value % 3 === 0 ? '' + datum.value : ''", "tickSize": 3, "labelPadding": 1, "title": "Potential\u2003\u2003V(k)/V\u2081", "titleFontSize": 15, "titleX": -51.3, "titleY": 128, "titleBaseline": "alphabetic", "titleAngle": 270, "minExtent": 104.3, "maxExtent": 200}}
}}
],
"resolve": {"scale": {"y": "independent"}, "axis": {"x": "independent"}}
}
],
"config": {
"view": {"stroke": "black", "strokeWidth": 1},
"axis": {"domainColor": "black", "domainWidth": 1, "tickColor": "black", "tickWidth": 1, "labelColor": "black", "titleColor": "black", "grid": false, "labelFont": "Liberation Sans", "labelFontWeight": "bold", "labelFontSize": 20, "titleFont": "Liberation Sans", "titleFontWeight": "bold", "labelFlush": false, "labelOverlap": false, "labelBound": false}
}
}
